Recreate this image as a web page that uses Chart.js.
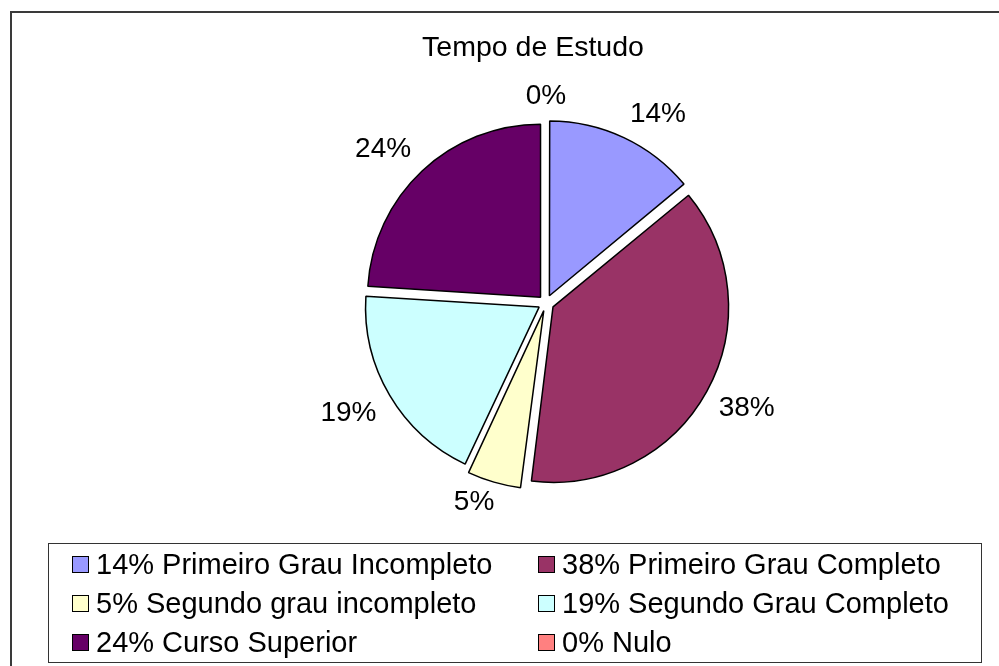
<!DOCTYPE html>
<html>
<head>
<meta charset="utf-8">
<title>Tempo de Estudo</title>
<script src="https://cdn.jsdelivr.net/npm/chart.js@4/dist/chart.umd.min.js"></script>
<style>
  html, body { margin: 0; padding: 0; background: #fff; }
  body { width: 999px; height: 666px; position: relative; overflow: hidden;
         font-family: "Liberation Sans", Arial, sans-serif; }
  #frame { position: absolute; left: 10px; top: 11px; width: 1000px; height: 700px;
           border-left: 2px solid #3a3a3a; border-top: 2px solid #3a3a3a; }
  #chart { position: absolute; left: 0; top: 0; }
  #legend { position: absolute; left: 48px; top: 543px; width: 932px; height: 117px;
            border: 1px solid #333; padding-top: 1px;
            display: grid; grid-template-columns: 489px 1fr; grid-auto-rows: 39px; }
  .item { display: flex; align-items: center; font-size: 29px; line-height: 39px; color: #000;
          white-space: nowrap; }
  .item:nth-child(odd) { padding-left: 23px; }
  .box { width: 15px; height: 15px; border: 1.5px solid #000; margin-right: 7px; flex: none; }
</style>
</head>
<body>
<div id="frame"></div>
<canvas id="chart" width="999" height="666"></canvas>
<div id="legend"></div>
<script>
/* global Chart */

const TITLE = 'Tempo de Estudo';
const CATEGORIES = [
  'Primeiro Grau Incompleto',
  'Primeiro Grau Completo',
  'Segundo grau incompleto',
  'Segundo Grau Completo',
  'Curso Superior',
  'Nulo',
];
const VALUES = [14, 38, 5, 19, 24, 0];
const COLORS = ['#9999ff', '#993366', '#ffffcc', '#ccffff', '#660066', '#ff8080'];

const FONT = '"Liberation Sans", Arial, sans-serif';
const LABEL_GAP = 16;

const clamp1 = (v) => Math.max(-1, Math.min(1, v * 3));

/* percentage labels around the pie + title, drawn from the arc elements */
const pieLabels = {
  id: 'pieLabels',
  afterDatasetsDraw(chart) {
    const { ctx } = chart;
    const meta = chart.getDatasetMeta(0);
    ctx.save();
    ctx.fillStyle = '#000';
    ctx.textAlign = 'center';
    ctx.textBaseline = 'middle';
    ctx.font = '28.5px ' + FONT;
    ctx.fillText(TITLE, 533, 48);

    ctx.font = '28px ' + FONT;
    meta.data.forEach((arc, i) => {
      const { x, y, startAngle, endAngle, outerRadius } =
        arc.getProps(['x', 'y', 'startAngle', 'endAngle', 'outerRadius'], true);
      const mid = (startAngle + endAngle) / 2;
      const dx = Math.cos(mid);
      const dy = Math.sin(mid);
      const text = VALUES[i] + '%';
      const w = ctx.measureText(text).width;
      const shift = (arc.options.offset || 0) / 4;
      // anchor just outside the slice, then hang the text box off it (Excel style)
      const r = outerRadius + shift + LABEL_GAP;
      const lx = x + dx * r + clamp1(dx) * w / 2;
      const ly = y + dy * r + clamp1(dy) * 10;
      ctx.fillText(text, lx, ly);
    });
    ctx.restore();
  },
};

new Chart(document.getElementById('chart'), {
  type: 'pie',
  data: {
    labels: CATEGORIES,
    datasets: [{
      data: VALUES,
      backgroundColor: COLORS,
      borderColor: '#000',
      borderWidth: 1.5,
      offset: 32,
      hoverOffset: 32,
    }],
  },
  options: {
    responsive: false,
    animation: false,
    radius: 173,
    events: [],
    layout: { padding: { left: 150, right: 57, top: 100, bottom: 160 } },
    plugins: {
      legend: { display: false },
      title: { display: false },
      tooltip: { enabled: false },
    },
  },
  plugins: [pieLabels],
});

/* legend box, two columns like the original */
const legendEl = document.getElementById('legend');
CATEGORIES.forEach((name, i) => {
  const item = document.createElement('div');
  item.className = 'item';
  const sw = document.createElement('span');
  sw.className = 'box';
  sw.style.background = COLORS[i];
  item.appendChild(sw);
  item.appendChild(document.createTextNode(VALUES[i] + '% ' + name));
  legendEl.appendChild(item);
});
</script>
</body>
</html>
